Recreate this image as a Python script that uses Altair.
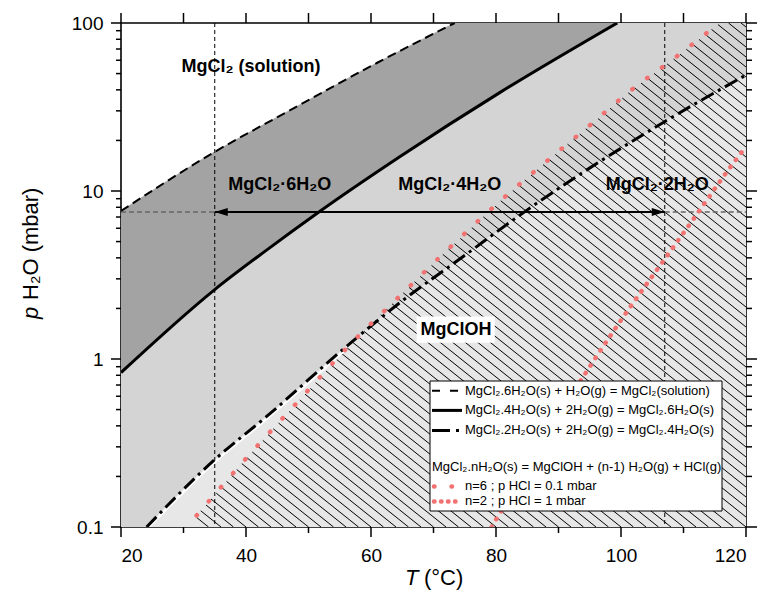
import altair as alt
import numpy as np
import pandas as pd

FONT = "Liberation Sans"
PINK = "#f27272"

# ---- phase boundaries: temperature T (°C) and water partial pressure (mbar)
# MgCl2.6H2O(s) + H2O(g) = MgCl2(solution)
hexa_sol_T = [20, 35, 46.6, 61, 73.4]
hexa_sol_p = [7.6, 17.1, 29.6, 58, 100]
# MgCl2.4H2O(s) + 2H2O(g) = MgCl2.6H2O(s)
tetra_hexa_T = [20, 35, 43.4, 51.5, 64.6, 80.6, 99.4]
tetra_hexa_p = [0.83, 2.59, 4.48, 7.43, 16.0, 38.5, 100]
# MgCl2.2H2O(s) + 2H2O(g) = MgCl2.4H2O(s)
di_tetra_T = [24.1, 35, 43.3, 56.1, 64.6, 74.7, 84.9, 106.7, 120]
di_tetra_p = [0.1, 0.252, 0.455, 1.19, 2.16, 4.06, 7.67, 25.5, 49]
# hydrolysis to MgClOH, n=6, p HCl = 0.1 mbar
hydro6_T = [32.1, 40.1, 48.1, 56.4, 65.2, 71.6, 80.6, 87.6, 94.5, 101.4, 108.9, 113.7, 115.8]
hydro6_p = [0.117, 0.258, 0.547, 1.19, 2.49, 4.24, 8.67, 14.5, 23.7, 39.2, 63.2, 87, 100]
# hydrolysis to MgClOH, n=2, p HCl = 1 mbar
hydro2_T = [79.3, 94.2, 99.8, 107.3, 112.4, 116.4, 120]
hydro2_p = [0.1, 0.81, 1.66, 4.08, 7.5, 12.2, 18.4]

# operating window: two temperatures at a fixed water pressure
window_T = [35, 107]
window_p = 7.5

# region names
region_text = ["MgCl₂ (solution)", "MgCl₂·6H₂O", "MgCl₂·4H₂O", "MgCl₂·2H₂O", "MgClOH"]
region_T = [40.8, 45.4, 72.6, 105.8, 73.6]
region_p = [55.0, 10.9, 10.9, 10.9, 1.49]

legend_text = [
    "MgCl₂.6H₂O(s) + H₂O(g) = MgCl₂(solution)",
    "MgCl₂.4H₂O(s) + 2H₂O(g) = MgCl₂.6H₂O(s)",
    "MgCl₂.2H₂O(s) + 2H₂O(g) = MgCl₂.4H₂O(s)",
    "MgCl₂.nH₂O(s) = MgClOH + (n-1) H₂O(g) + HCl(g)",
    "n=6 ; p HCl = 0.1 mbar",
    "n=2 ; p HCl = 1 mbar",
]

x_major = [20, 40, 60, 80, 100, 120]
y_major = [0.1, 1, 10, 100]

# ---- frame and scales
T_MIN, T_MAX = 20, 120
P_MIN, P_MAX = 0.1, 100
W, H = 625, 504

x_scale = alt.Scale(domain=[T_MIN, T_MAX], nice=False, zero=False)
y_scale = alt.Scale(type="log", domain=[P_MIN, P_MAX], nice=False)
x_axis = alt.Axis(values=x_major, format="d", title=None, grid=False, domain=False,
                  ticks=False, tickSize=0, labelFont=FONT, labelFontSize=19,
                  labelColor="black", labelPadding=19)
y_axis = alt.Axis(values=y_major, format="~g", title=None, grid=False, domain=False,
                  ticks=False, tickSize=0, labelFont=FONT, labelFontSize=19,
                  labelColor="black", labelPadding=18)


def X(f="T"):
    return alt.X(f"{f}:Q", scale=x_scale, axis=x_axis)


def Y(f="p"):
    return alt.Y(f"{f}:Q", scale=y_scale, axis=y_axis)


def curve(T, p):
    return pd.DataFrame({"T": T, "p": p})


one = pd.DataFrame({"a": [0]})

hexa_sol = curve(hexa_sol_T, hexa_sol_p)
tetra_hexa = curve(tetra_hexa_T, tetra_hexa_p)
di_tetra = curve(di_tetra_T, di_tetra_p)
hydro6 = curve(hydro6_T, hydro6_p)
hydro2 = curve(hydro2_T, hydro2_p)


def fill_under(df, color):
    """Area below a boundary; where the boundary leaves the top of the frame,
    the field continues to the right edge as a full-height block."""
    d = df.assign(base=P_MIN)
    area = alt.Chart(d).mark_area(color=color, stroke=color, strokeWidth=0.8,
                                  interpolate="monotone", clip=True).encode(
        x=X(), y=Y(), y2=alt.Y2("base:Q"))
    layers = [area]
    if df["p"].iloc[-1] >= P_MAX:
        blk = pd.DataFrame({"T": [df["T"].iloc[-1]], "T2": [T_MAX],
                            "p": [P_MIN], "p2": [P_MAX]})
        layers.append(alt.Chart(blk).mark_rect(color=color, stroke=color, strokeWidth=1.2,
                                               clip=True).encode(
            x=X(), x2=alt.X2("T2:Q"), y=Y(), y2=alt.Y2("p2:Q")))
    return layers


fills = (fill_under(hexa_sol, "#a3a3a3")
         + fill_under(tetra_hexa, "#d4d4d4")
         + fill_under(di_tetra, "#e7e7e7"))

# ---- hatching of the MgClOH field (below the n=6 hydrolysis curve)
HATCH_SLOPE, HATCH_STEP = 0.8, 12.5
lp_span = np.log10(P_MAX) - np.log10(P_MIN)
bx = (np.array(hydro6_T) - T_MIN) / (T_MAX - T_MIN) * W
by = (np.log10(P_MAX) - np.log10(hydro6_p)) / lp_span * H
xg = np.linspace(0, W, 2501)
bound = np.interp(xg, bx, by, left=H, right=0.0)
seg = []
for xb in np.arange(0, W + H / HATCH_SLOPE + HATCH_STEP, HATCH_STEP):
    yl = H - HATCH_SLOPE * (xb - xg)
    ok = (xg <= xb) & (yl >= bound) & (yl >= 0)
    if not ok.any():
        continue
    i = int(np.argmax(ok))
    x0, y0 = xg[i], yl[i]
    x1 = min(xb, W)
    y1 = H - HATCH_SLOPE * (xb - x1)
    if x1 - x0 < 0.5:
        continue
    seg.append((x0, y0, x1, y1))
seg = np.array(seg)
hatch = pd.DataFrame({
    "T": T_MIN + seg[:, 0] / W * (T_MAX - T_MIN),
    "p": 10 ** (np.log10(P_MAX) - seg[:, 1] / H * lp_span),
    "T2": T_MIN + seg[:, 2] / W * (T_MAX - T_MIN),
    "p2": 10 ** (np.log10(P_MAX) - seg[:, 3] / H * lp_span),
})
hatch_layer = alt.Chart(hatch).mark_rule(color="black", strokeWidth=1, clip=True).encode(
    x=X(), y=Y(), x2=alt.X2("T2:Q"), y2=alt.Y2("p2:Q"))

# ---- guide lines for the operating window
vlines = alt.Chart(pd.DataFrame({"T": window_T})).mark_rule(
    color="black", strokeWidth=1, strokeDash=[4, 3]).encode(x=X())
hguide = pd.DataFrame({"T": [T_MIN, window_T[1]], "T2": [window_T[0], T_MAX],
                       "p": [window_p, window_p]})
hlines = alt.Chart(hguide).mark_rule(color="#666666", strokeWidth=1.5, strokeDash=[5, 3]).encode(
    x=X(), x2=alt.X2("T2:Q"), y=Y())
arrow_df = pd.DataFrame({"T": [window_T[0]], "T2": [window_T[1]], "p": [window_p]})
arrow_shaft = alt.Chart(arrow_df).mark_rule(color="black", strokeWidth=2).encode(
    x=X(), x2=alt.X2("T2:Q"), y=Y())
head_l = alt.Chart(pd.DataFrame({"T": [window_T[0]], "p": [window_p]})).mark_point(
    shape="M-1,0L1,-0.6L1,0.6Z", filled=True, size=169, color="black", opacity=1,
    xOffset=6.5).encode(x=X(), y=Y())
head_r = alt.Chart(pd.DataFrame({"T": [window_T[1]], "p": [window_p]})).mark_point(
    shape="M1,0L-1,-0.6L-1,0.6Z", filled=True, size=169, color="black", opacity=1,
    xOffset=-6.5).encode(x=X(), y=Y())

# ---- boundary curves
white_edge = alt.Chart(di_tetra[di_tetra["T"] <= 56.1]).mark_line(
    color="white", strokeWidth=2.5, yOffset=2.5, interpolate="monotone", clip=True).encode(
    x=X(), y=Y())
line_sol = alt.Chart(hexa_sol).mark_line(color="black", strokeWidth=2, strokeDash=[9, 5],
                                         interpolate="monotone", clip=True).encode(x=X(), y=Y())
line_th = alt.Chart(tetra_hexa).mark_line(color="black", strokeWidth=3,
                                          interpolate="monotone", clip=True).encode(x=X(), y=Y())
line_dt = alt.Chart(di_tetra).mark_line(color="black", strokeWidth=3, strokeDash=[14, 5, 3, 5],
                                        interpolate="monotone", clip=True).encode(x=X(), y=Y())
line_h6 = alt.Chart(hydro6).mark_line(color=PINK, strokeWidth=4.5, strokeDash=[0.5, 18],
                                      strokeCap="round", interpolate="monotone",
                                      clip=True).encode(x=X(), y=Y())
line_h2 = alt.Chart(hydro2).mark_line(color=PINK, strokeWidth=4.5, strokeDash=[0.5, 8.5],
                                      strokeCap="round", interpolate="monotone",
                                      clip=True).encode(x=X(), y=Y())

# ---- region labels
labels = pd.DataFrame({"text": region_text, "T": region_T, "p": region_p})
box = pd.DataFrame({"T": [67.3], "T2": [79.8], "p": [1.25], "p2": [1.79]})
label_box = alt.Chart(box).mark_rect(color="white").encode(
    x=X(), x2=alt.X2("T2:Q"), y=Y(), y2=alt.Y2("p2:Q"))
label_layer = alt.Chart(labels).mark_text(font=FONT, fontSize=18, fontWeight="bold",
                                          color="black", baseline="middle").encode(
    x=X(), y=Y(), text="text:N")

# ---- legend box (pixel positions inside the plot area)
LX0, LX1, LY0, LY1 = 309, 601, 358, 488
SX0, SX1, TX = 311, 341, 344
row_y = [367.7, 387.4, 407.4, 444.0, 463.4, 478.4]

legend_layers = [
    alt.Chart(one).mark_rect(fill="white", stroke="black", strokeWidth=1).encode(
        x=alt.value(LX0), x2=alt.value(LX1), y=alt.value(LY0), y2=alt.value(LY1))
]
sample_styles = [
    dict(color="black", strokeWidth=2, strokeDash=[8, 10]),
    dict(color="black", strokeWidth=3),
    dict(color="black", strokeWidth=3, strokeDash=[18, 6, 3, 3]),
    None,
    dict(color=PINK, strokeWidth=4.5, strokeDash=[0.5, 17], strokeCap="round"),
    dict(color=PINK, strokeWidth=4.5, strokeDash=[0.5, 6.5], strokeCap="round"),
]
for txt, yy, style in zip(legend_text, row_y, sample_styles):
    if style is not None:
        legend_layers.append(alt.Chart(one).mark_rule(**style).encode(
            x=alt.value(SX0 if style.get("strokeCap") is None else SX0 + 2),
            x2=alt.value(SX1), y=alt.value(yy)))
    legend_layers.append(alt.Chart(one).mark_text(
        text=txt, font=FONT, fontSize=13, color="black", align="left", baseline="middle").encode(
        x=alt.value(TX if style is not None else SX0), y=alt.value(yy)))

# ---- tick marks on all four sides
x_minor = [30, 50, 70, 90, 110]
y_minor = [m * 10.0 ** k for k in (-1, 0, 1) for m in range(2, 10)]
xt = pd.DataFrame({"T": x_major + x_minor,
                   "len": [10] * len(x_major) + [6] * len(x_minor)})
yt = pd.DataFrame({"p": y_major + y_minor,
                   "len": [10] * len(y_major) + [5] * len(y_minor)})
tick_layers = []
for size in (10, 6):
    sel = xt[xt["len"] == size]
    tick_layers.append(alt.Chart(sel).mark_rule(color="black", strokeWidth=1.5).encode(
        x=X(), y=alt.value(H), y2=alt.value(H + size)))
tick_layers.append(alt.Chart(xt).mark_rule(color="black", strokeWidth=1.5).encode(
    x=X(), y=alt.value(-10), y2=alt.value(0)))
for size in (10, 5):
    sel = yt[yt["len"] == size]
    tick_layers.append(alt.Chart(sel).mark_rule(color="black", strokeWidth=1.5).encode(
        y=Y(), x=alt.value(-size), x2=alt.value(0)))
    tick_layers.append(alt.Chart(sel).mark_rule(color="black", strokeWidth=1.5).encode(
        y=Y(), x=alt.value(W), x2=alt.value(W + size + 1)))

# ---- axis titles (italic symbol + plain unit)
titles = [
    alt.Chart(one).mark_text(text="T", font=FONT, fontSize=22, fontStyle="italic",
                             align="left", baseline="alphabetic", color="black").encode(
        x=alt.value(284), y=alt.value(562)),
    alt.Chart(one).mark_text(text="(°C)", font=FONT, fontSize=22, align="left",
                             baseline="alphabetic", color="black").encode(
        x=alt.value(303), y=alt.value(562)),
    alt.Chart(one).mark_text(text="p", font=FONT, fontSize=22, fontStyle="italic", angle=270,
                             align="left", baseline="middle", color="black").encode(
        x=alt.value(-90), y=alt.value(296)),
    alt.Chart(one).mark_text(text="H₂O (mbar)", font=FONT, fontSize=22, angle=270,
                             align="left", baseline="middle", color="black").encode(
        x=alt.value(-90), y=alt.value(277)),
]

chart = alt.layer(
    *fills, hatch_layer, white_edge, vlines, hlines,
    line_sol, line_th, line_dt, line_h6, line_h2,
    arrow_shaft, head_l, head_r,
    label_box, label_layer,
    *legend_layers, *tick_layers, *titles,
).properties(
    width=W, height=H,
    padding={"left": 121, "top": 23, "right": 21, "bottom": 80},
    autosize=alt.AutoSizeParams(type="none"),
    background="white",
).configure_view(stroke="black", strokeWidth=1.6)

chart.save("out.html", embed_options={"renderer": "svg", "actions": False})
